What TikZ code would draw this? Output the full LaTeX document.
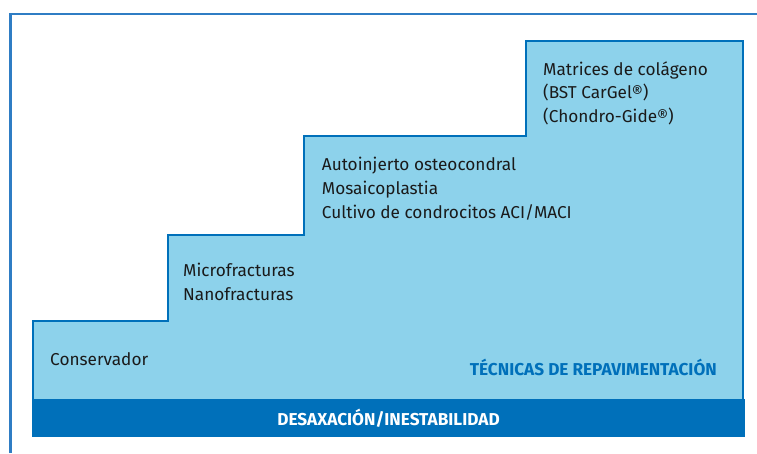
\documentclass[tikz,border=0pt]{standalone}
\usepackage{fontspec}
\setmainfont{Fira Sans}
\definecolor{frameblue}{HTML}{2F7DC4}
\definecolor{darkblue}{HTML}{0070BA}
\definecolor{lightblue}{HTML}{8DD2EB}
\definecolor{textdark}{HTML}{1A1A1A}
\begin{document}
\begin{tikzpicture}[x=1pt,y=-1pt,
  steptext/.style={anchor=base west,inner sep=0pt,align=left,text=textdark,
    font=\fontsize{17.2}{23.7}\selectfont},
  labeltext/.style={inner sep=0pt,font=\bfseries\fontsize{17.2}{20}\selectfont}]
\useasboundingbox (0,0) rectangle (757,453);
\fill[white] (0,0) rectangle (757,453);
% outer frame
\draw[frameblue,line width=2.4pt] (10.5,453) -- (10.5,14) -- (757,14);
% staircase
\draw[darkblue,line width=2.5pt,fill=lightblue,line join=miter]
  (33,399) -- (33,321) -- (168,321) -- (168,235) -- (304,235) -- (304,136)
  -- (526,136) -- (526,41) -- (743,41) -- (743,399);
% bar
\fill[darkblue] (32,399) rectangle (745,437);
\node[labeltext,text=white,anchor=base] (bar) at (388.5,425) {DESAXACIÓN/INESTABILIDAD};
\node[labeltext,text=darkblue,anchor=base east] (tec) at (717,375) {TÉCNICAS DE REPAVIMENTACIÓN};
% step texts (anchor = baseline of last line)
\node[steptext] (s1) at (50,365) {Conservador};
\node[steptext] (s2) at (183,300.5) {Microfracturas\\Nanofracturas};
\node[steptext] (s3) at (321.7,218) {Autoinjerto osteocondral\\Mosaicoplastia\\Cultivo de condrocitos ACI/MACI};
\node[steptext] (s4) at (543,122.5) {Matrices de colágeno\\(BST CarGel®)\\(Chondro-Gide®)};
\end{tikzpicture}
\end{document}
